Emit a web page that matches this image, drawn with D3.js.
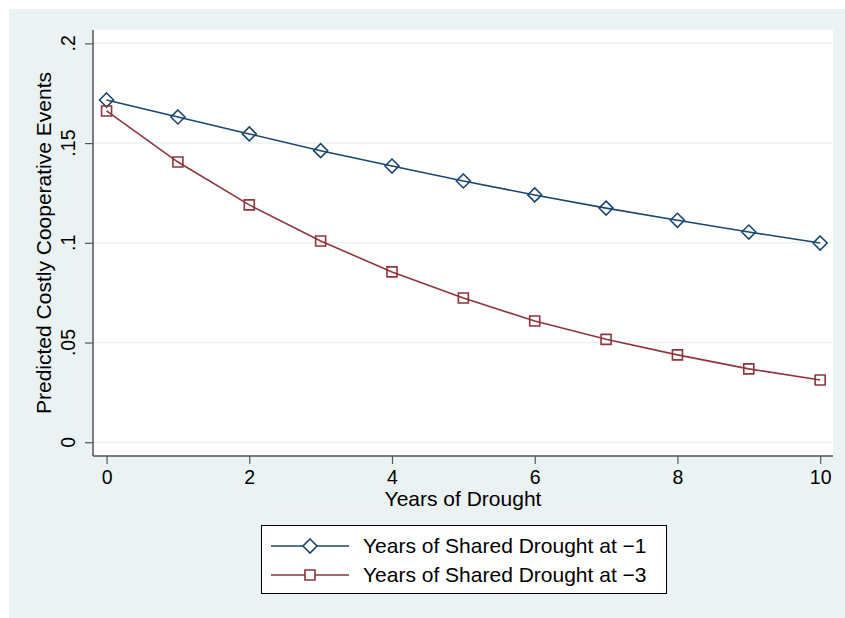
<!DOCTYPE html>
<html>
<head>
<meta charset="utf-8">
<script src="https://d3js.org/d3.v7.min.js"></script>
<style>
body { margin: 0; background: #ffffff; }
svg text { font-family: "Liberation Sans", Arial, sans-serif; fill: #000; }
</style>
</head>
<body>
<div id="chart"></div>
<script>

// data
var years = [0, 1, 2, 3, 4, 5, 6, 7, 8, 9, 10];
var drought1 = [0.1716, 0.1631, 0.1546, 0.1462, 0.1385, 0.1310, 0.1240, 0.1174, 0.1113, 0.1054, 0.0999];
var drought3 = [0.1661, 0.1405, 0.1190, 0.1009, 0.0854, 0.0723, 0.0608, 0.0516, 0.0438, 0.0368, 0.0312];
var xTicks = [0, 2, 4, 6, 8, 10];
var yTicks = [0, 0.05, 0.1, 0.15, 0.2];
var yTickLabels = ["0", ".05", ".1", ".15", ".2"];
var seriesNames = ["Years of Shared Drought at \u22121", "Years of Shared Drought at \u22123"];

var width = 845;
var height = 618;
var bg = "#eaf2f3";
var blue = "#1a476f";
var red = "#90353b";
var tickFont = "19.5px";
var titleFont = "21px";

var svg = d3.select("#chart")
	.append("svg")
		.attr("width", width)
		.attr("height", height);

svg.append("rect")
	.attr("x", 9).attr("y", 9)
	.attr("width", width - 9).attr("height", height - 9)
	.attr("fill", bg);

var plot = {left: 93, top: 30, right: 833, bottom: 456};

var x = d3.scaleLinear()
	.domain([-0.19, 10.18])
	.range([plot.left, plot.right]);

var y = d3.scaleLinear()
	.domain([-0.0069, 0.2067])
	.range([plot.bottom, plot.top]);

svg.append("rect")
	.attr("x", plot.left).attr("y", plot.top)
	.attr("width", plot.right - plot.left)
	.attr("height", plot.bottom - plot.top)
	.attr("fill", "#ffffff");

// grid lines
svg.append("g")
	.selectAll("line")
	.data(yTicks)
	.enter()
	.append("line")
		.attr("x1", plot.left)
		.attr("x2", plot.right)
		.attr("y1", function(d) { return y(d); })
		.attr("y2", function(d) { return y(d); })
		.style("stroke", bg)
		.style("stroke-width", 1.5);

// y axis
var yAxis = svg.append("g")
	.attr("transform", "translate(" + plot.left + ",0)")
	.call(d3.axisLeft(y).tickValues(yTicks).tickSize(8).tickFormat(function() { return ""; }));
yAxis.select(".domain").attr("d", "M0," + plot.top + "V" + plot.bottom).attr("stroke", "#555").attr("stroke-width", 1.5);
yAxis.selectAll(".tick line").attr("stroke", "#555").attr("stroke-width", 1.2);

svg.append("g")
	.selectAll("text")
	.data(yTicks)
	.enter()
	.append("text")
		.text(function(d, i) { return yTickLabels[i]; })
		.attr("transform", function(d) { return "translate(75," + y(d) + ") rotate(-90)"; })
		.style("text-anchor", "middle")
		.style("font-size", tickFont);

// x axis
var xAxis = svg.append("g")
	.attr("transform", "translate(0," + plot.bottom + ")")
	.call(d3.axisBottom(x).tickValues(xTicks).tickSize(8).tickPadding(6).tickFormat(d3.format("d")));
xAxis.select(".domain").attr("d", "M" + plot.left + ",0H" + plot.right).attr("stroke", "#555").attr("stroke-width", 1.5);
xAxis.selectAll(".tick line").attr("stroke", "#555").attr("stroke-width", 1.2);
xAxis.selectAll(".tick text")
	.style("font-size", tickFont)
	.style("font-family", "Liberation Sans, Arial, sans-serif")
	.attr("fill", "#000");

svg.append("text")
	.text("Years of Drought")
	.attr("x", (plot.left + plot.right) / 2)
	.attr("y", 506)
	.style("text-anchor", "middle")
	.style("font-size", titleFont);

svg.append("text")
	.text("Predicted Costly Cooperative Events")
	.attr("transform", "translate(51," + ((plot.top + plot.bottom) / 2) + ") rotate(-90)")
	.style("text-anchor", "middle")
	.style("font-size", titleFont);

// lines and markers
var line = d3.line()
	.x(function(d, i) { return x(years[i]); })
	.y(function(d) { return y(d); });

var diamond = function(cx, cy) {
	var r = 7;
	return "M" + cx + "," + (cy - r) + "L" + (cx + r) + "," + cy + "L" + cx + "," + (cy + r) + "L" + (cx - r) + "," + cy + "Z";
};
var square = function(cx, cy) {
	var r = 5;
	return "M" + (cx - r) + "," + (cy - r) + "H" + (cx + r) + "V" + (cy + r) + "H" + (cx - r) + "Z";
};

var series = [
	{values: drought1, color: blue, shape: diamond},
	{values: drought3, color: red, shape: square}
];

series.forEach(function(s) {
	svg.append("path")
		.datum(s.values)
		.attr("d", line)
		.attr("fill", "none")
		.attr("stroke", s.color)
		.attr("stroke-width", 1.6);

	svg.append("g")
		.selectAll("path")
		.data(s.values)
		.enter()
		.append("path")
			.attr("d", function(d, i) { return s.shape(x(years[i]), y(d)); })
			.attr("fill", "none")
			.attr("stroke", s.color)
			.attr("stroke-width", 1.6);
});

// legend
var legend = svg.append("g");
legend.append("rect")
	.attr("x", 261.5).attr("y", 525.5)
	.attr("width", 405).attr("height", 68)
	.attr("fill", "#ffffff")
	.attr("stroke", "#000")
	.attr("stroke-width", 1);

series.forEach(function(s, i) {
	var ly = 546 + i * 29;
	legend.append("line")
		.attr("x1", 271).attr("x2", 349)
		.attr("y1", ly).attr("y2", ly)
		.attr("stroke", s.color)
		.attr("stroke-width", 1.6);
	legend.append("path")
		.attr("d", s.shape(310, ly))
		.attr("fill", "#ffffff")
		.attr("stroke", s.color)
		.attr("stroke-width", 1.6);
	legend.append("text")
		.text(seriesNames[i])
		.attr("x", 363)
		.attr("y", ly + 7)
		.style("font-size", titleFont);
});

</script>
</body>
</html>
